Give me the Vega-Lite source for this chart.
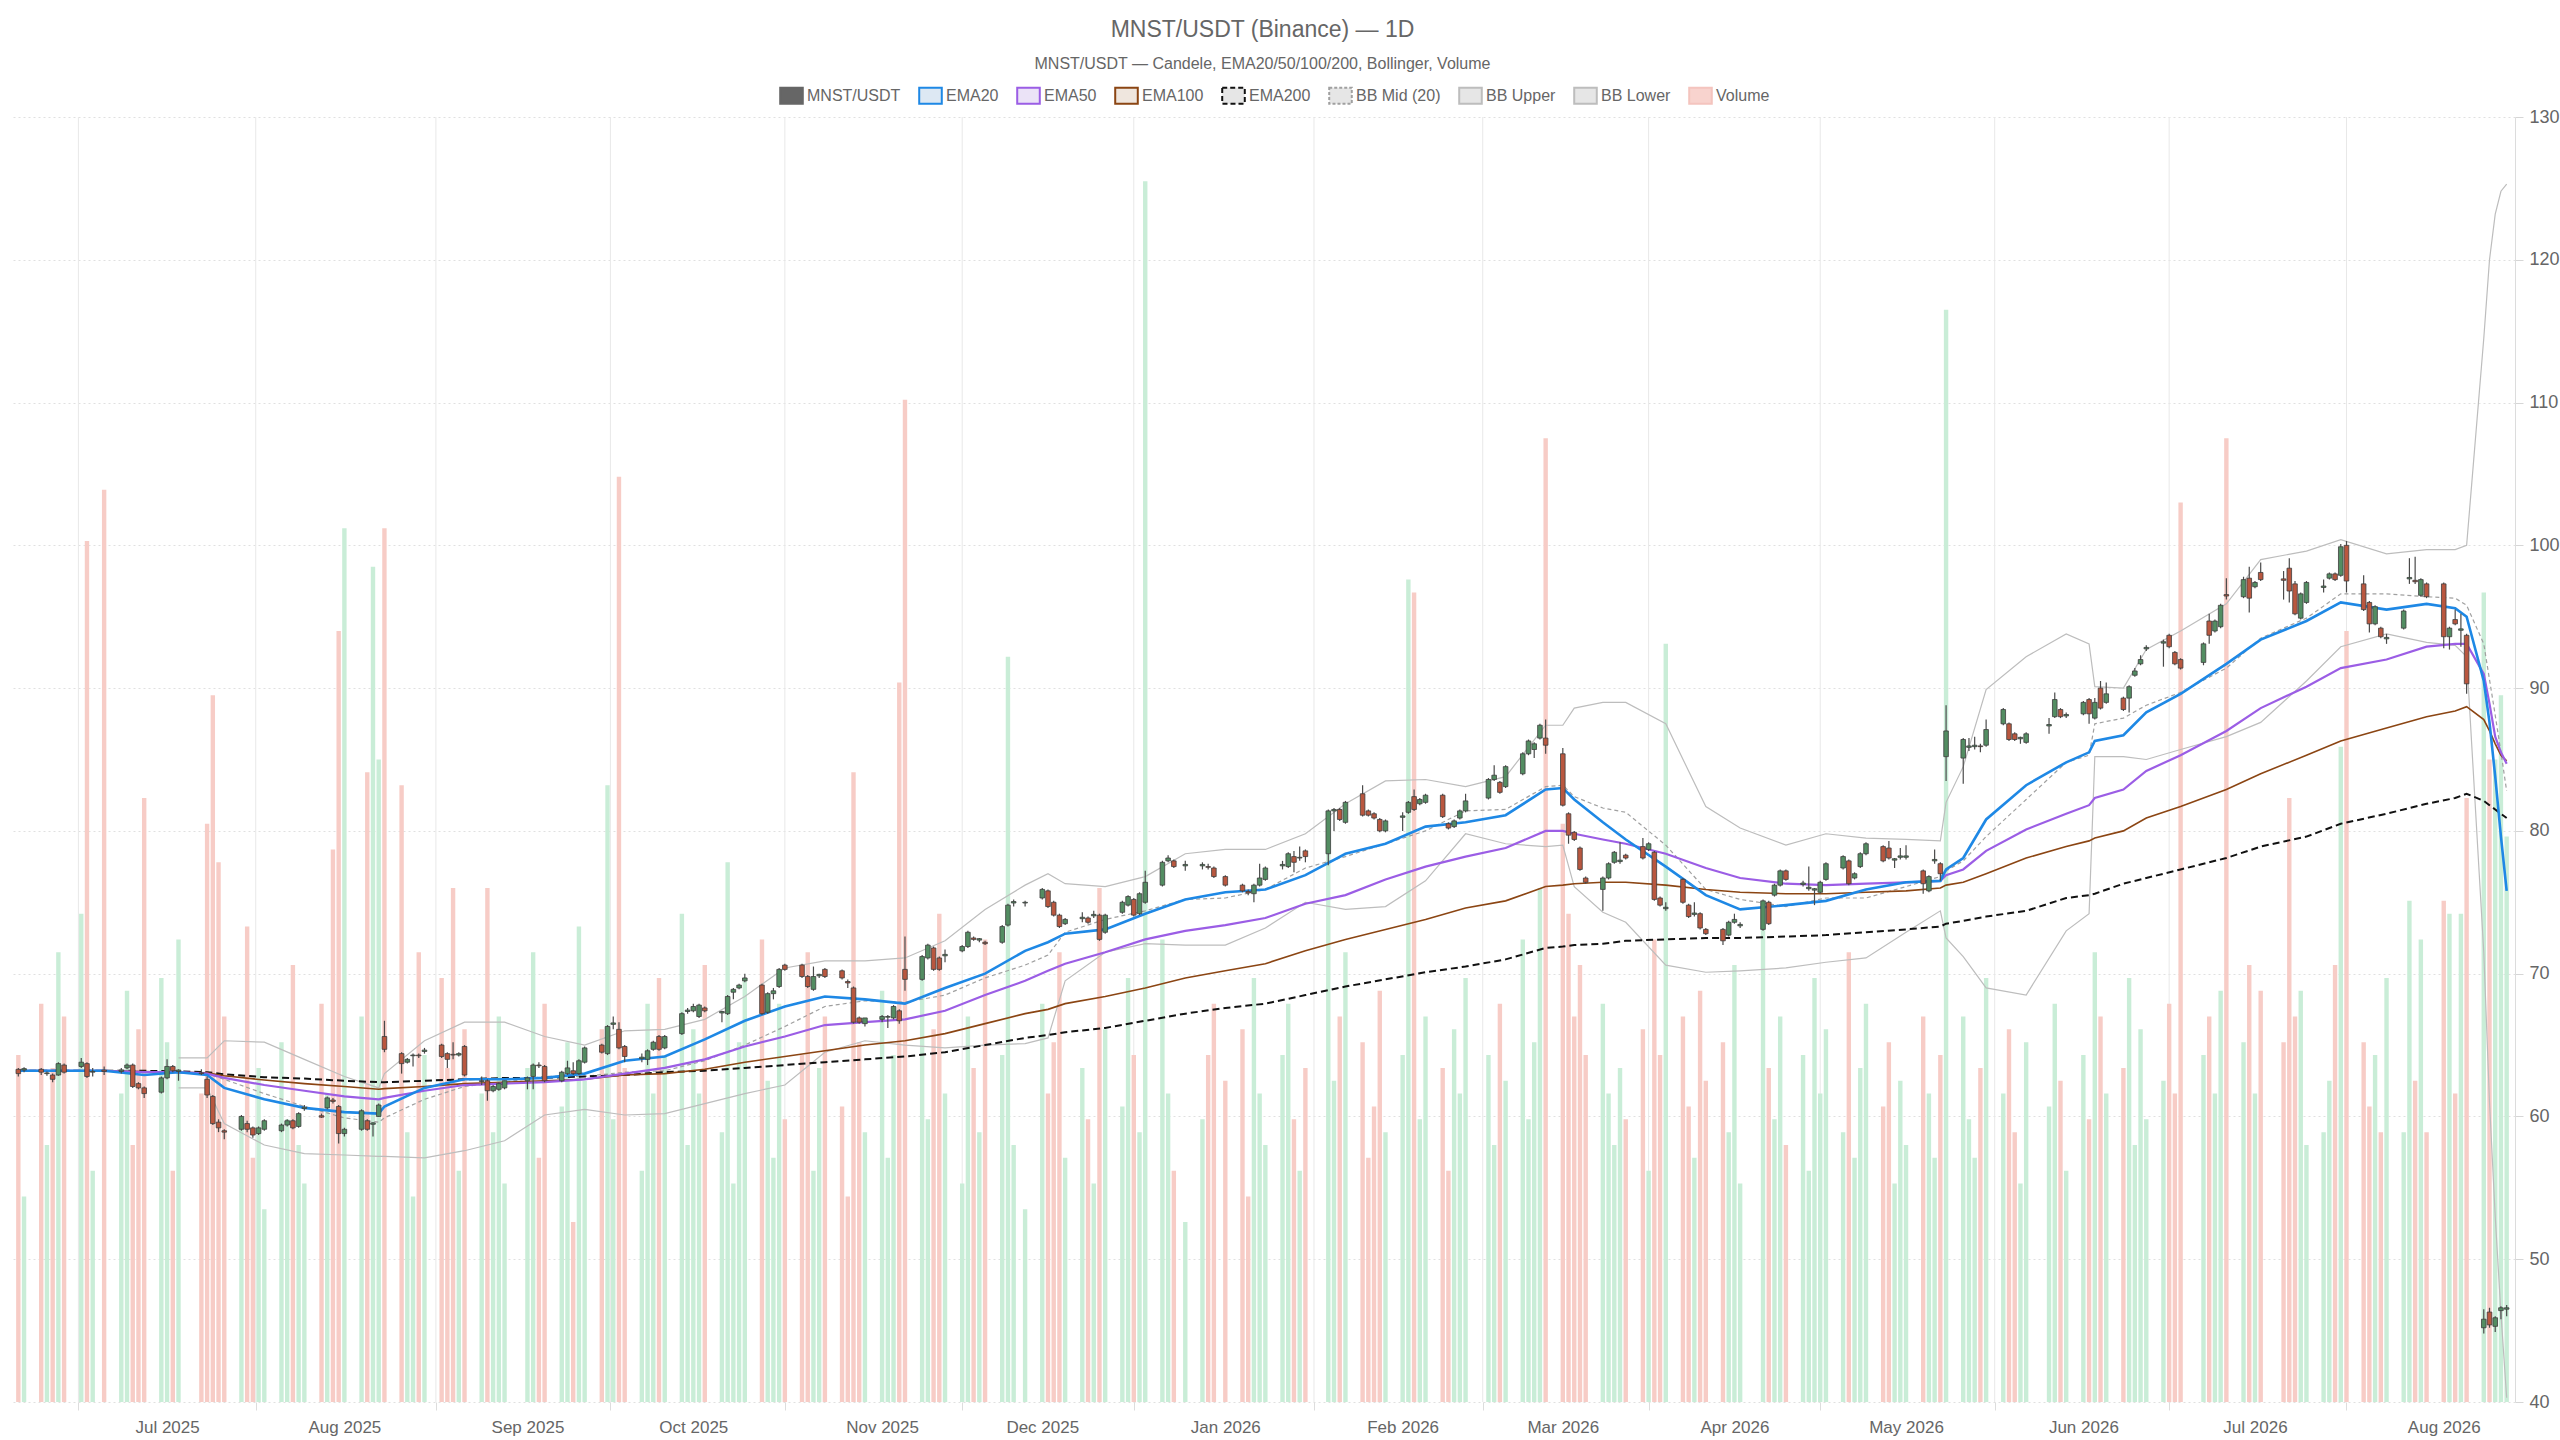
{
  "$schema": "https://vega.github.io/schema/vega-lite/v6.json",
  "width": 2505,
  "height": 1285,
  "autosize": {"type": "none"},
  "padding": {"left": 10, "top": 117, "right": 45, "bottom": 38},
  "background": "#ffffff",
  "config": {"font": "Liberation Sans", "view": {"stroke": null}},
  "title": {
    "text": "MNST/USDT (Binance) — 1D",
    "subtitle": "MNST/USDT — Candele, EMA20/50/100/200, Bollinger, Volume",
    "anchor": "middle",
    "fontSize": 23,
    "fontWeight": "normal",
    "color": "#666666",
    "subtitleFontSize": 16,
    "subtitleColor": "#666666",
    "subtitlePadding": 14,
    "offset": 14
  },
  "datasets": {
    "grid": [
      {"g":"2025-06-15T12:00:00Z"},{"g":"2025-07-16T12:00:00Z"},{"g":"2025-08-17T00:00:00Z"},
      {"g":"2025-09-16T12:00:00Z"},{"g":"2025-10-17T00:00:00Z"},{"g":"2025-11-17T00:00:00Z"},
      {"g":"2025-12-17T00:00:00Z"},{"g":"2026-01-17T12:00:00Z"},{"g":"2026-02-16T00:00:00Z"},
      {"g":"2026-03-17T00:00:00Z"},{"g":"2026-04-16T00:00:00Z"},{"g":"2026-05-16T12:00:00Z"},
      {"g":"2026-06-16T00:00:00Z"},{"g":"2026-07-17T00:00:00Z"}
    ],
    "candles": [
      {"d":"2025-06-05","o":63.3,"h":63.4,"l":62.8,"c":63.0,"v":27},
      {"d":"2025-06-06","o":63.25,"h":63.45,"l":63.1,"c":63.35,"v":16},
      {"d":"2025-06-09","o":63.3,"h":63.4,"l":62.9,"c":63.1,"v":31},
      {"d":"2025-06-10","o":63.0,"h":63.15,"l":62.85,"c":63.05,"v":20},
      {"d":"2025-06-11","o":62.9,"h":63.0,"l":62.4,"c":62.6,"v":26},
      {"d":"2025-06-12","o":62.9,"h":63.8,"l":62.85,"c":63.7,"v":35},
      {"d":"2025-06-13","o":63.6,"h":63.7,"l":63.0,"c":63.1,"v":30},
      {"d":"2025-06-16","o":63.5,"h":64.1,"l":63.4,"c":63.8,"v":38},
      {"d":"2025-06-17","o":63.7,"h":63.8,"l":62.7,"c":62.8,"v":67},
      {"d":"2025-06-18","o":63.1,"h":63.4,"l":62.8,"c":63.15,"v":18},
      {"d":"2025-06-20","o":63.25,"h":63.5,"l":62.9,"c":63.15,"v":71},
      {"d":"2025-06-23","o":63.15,"h":63.4,"l":63.0,"c":63.25,"v":24},
      {"d":"2025-06-24","o":63.4,"h":63.7,"l":63.3,"c":63.6,"v":32},
      {"d":"2025-06-25","o":63.6,"h":63.7,"l":62.0,"c":62.1,"v":20},
      {"d":"2025-06-26","o":62.3,"h":62.4,"l":61.9,"c":62.0,"v":29},
      {"d":"2025-06-27","o":62.0,"h":62.1,"l":61.3,"c":61.6,"v":47},
      {"d":"2025-06-30","o":61.7,"h":62.8,"l":61.6,"c":62.7,"v":33},
      {"d":"2025-07-01","o":62.7,"h":64.0,"l":62.6,"c":63.5,"v":28},
      {"d":"2025-07-02","o":63.5,"h":63.6,"l":63.1,"c":63.2,"v":18},
      {"d":"2025-07-03","o":63.15,"h":63.3,"l":62.5,"c":63.25,"v":36},
      {"d":"2025-07-07","o":63.05,"h":63.3,"l":62.9,"c":63.0,"v":24},
      {"d":"2025-07-08","o":62.6,"h":62.8,"l":61.3,"c":61.5,"v":45},
      {"d":"2025-07-09","o":61.4,"h":61.5,"l":59.4,"c":59.5,"v":55},
      {"d":"2025-07-10","o":59.6,"h":59.8,"l":58.9,"c":59.2,"v":42},
      {"d":"2025-07-11","o":59.0,"h":59.1,"l":58.4,"c":58.9,"v":30},
      {"d":"2025-07-14","o":59.1,"h":60.1,"l":59.0,"c":60.0,"v":22},
      {"d":"2025-07-15","o":59.5,"h":59.7,"l":58.9,"c":59.1,"v":37},
      {"d":"2025-07-16","o":59.2,"h":59.3,"l":58.5,"c":58.7,"v":19},
      {"d":"2025-07-17","o":58.8,"h":59.3,"l":58.7,"c":59.2,"v":26},
      {"d":"2025-07-18","o":59.1,"h":59.8,"l":59.0,"c":59.7,"v":15},
      {"d":"2025-07-21","o":59.0,"h":59.5,"l":58.9,"c":59.4,"v":28},
      {"d":"2025-07-22","o":59.4,"h":59.8,"l":59.3,"c":59.7,"v":22},
      {"d":"2025-07-23","o":59.7,"h":59.8,"l":59.1,"c":59.2,"v":34},
      {"d":"2025-07-24","o":59.3,"h":60.3,"l":59.2,"c":60.2,"v":20},
      {"d":"2025-07-25","o":60.55,"h":60.8,"l":60.4,"c":60.65,"v":17},
      {"d":"2025-07-28","o":60.05,"h":60.2,"l":59.9,"c":59.95,"v":31},
      {"d":"2025-07-29","o":60.6,"h":61.4,"l":60.5,"c":61.3,"v":24},
      {"d":"2025-07-30","o":61.15,"h":61.3,"l":60.9,"c":61.05,"v":43},
      {"d":"2025-07-31","o":60.7,"h":60.8,"l":58.1,"c":58.8,"v":60},
      {"d":"2025-08-01","o":58.8,"h":59.2,"l":58.6,"c":59.1,"v":68},
      {"d":"2025-08-04","o":59.1,"h":60.5,"l":59.0,"c":60.4,"v":30},
      {"d":"2025-08-05","o":59.7,"h":59.8,"l":59.0,"c":59.1,"v":49},
      {"d":"2025-08-06","o":59.45,"h":59.6,"l":58.6,"c":59.55,"v":65},
      {"d":"2025-08-07","o":60.0,"h":60.9,"l":60.0,"c":60.8,"v":50},
      {"d":"2025-08-08","o":65.6,"h":66.7,"l":64.5,"c":64.7,"v":68},
      {"d":"2025-08-11","o":64.4,"h":64.5,"l":63.0,"c":63.7,"v":48},
      {"d":"2025-08-12","o":63.8,"h":64.1,"l":63.7,"c":64.0,"v":21},
      {"d":"2025-08-13","o":64.25,"h":64.4,"l":63.5,"c":64.3,"v":16},
      {"d":"2025-08-14","o":64.3,"h":64.4,"l":64.1,"c":64.25,"v":35},
      {"d":"2025-08-15","o":64.55,"h":64.8,"l":64.4,"c":64.65,"v":27},
      {"d":"2025-08-18","o":65.0,"h":65.1,"l":64.1,"c":64.2,"v":33},
      {"d":"2025-08-19","o":64.4,"h":64.5,"l":63.4,"c":64.0,"v":26},
      {"d":"2025-08-20","o":64.35,"h":65.2,"l":64.0,"c":64.3,"v":40},
      {"d":"2025-08-21","o":64.3,"h":64.5,"l":64.2,"c":64.4,"v":18},
      {"d":"2025-08-22","o":64.9,"h":65.0,"l":62.8,"c":62.9,"v":29},
      {"d":"2025-08-25","o":62.45,"h":62.8,"l":62.2,"c":62.5,"v":24},
      {"d":"2025-08-26","o":62.5,"h":62.6,"l":61.1,"c":61.8,"v":40},
      {"d":"2025-08-27","o":61.8,"h":62.2,"l":61.7,"c":62.1,"v":21},
      {"d":"2025-08-28","o":61.9,"h":62.4,"l":61.8,"c":62.3,"v":30},
      {"d":"2025-08-29","o":62.0,"h":62.5,"l":61.9,"c":62.5,"v":17},
      {"d":"2025-09-02","o":62.5,"h":62.8,"l":61.9,"c":62.7,"v":26},
      {"d":"2025-09-03","o":62.8,"h":63.7,"l":61.9,"c":63.6,"v":35},
      {"d":"2025-09-04","o":63.6,"h":63.8,"l":63.4,"c":63.55,"v":19},
      {"d":"2025-09-05","o":63.5,"h":63.6,"l":62.4,"c":62.5,"v":31},
      {"d":"2025-09-08","o":62.5,"h":63.2,"l":62.4,"c":63.1,"v":23},
      {"d":"2025-09-09","o":63.0,"h":63.9,"l":62.9,"c":63.4,"v":28},
      {"d":"2025-09-10","o":63.2,"h":63.8,"l":62.9,"c":63.0,"v":14},
      {"d":"2025-09-11","o":63.0,"h":64.0,"l":62.9,"c":63.9,"v":37},
      {"d":"2025-09-12","o":63.8,"h":64.9,"l":63.7,"c":64.8,"v":25},
      {"d":"2025-09-15","o":65.0,"h":65.1,"l":64.4,"c":64.5,"v":29},
      {"d":"2025-09-16","o":64.4,"h":66.4,"l":64.3,"c":66.3,"v":48},
      {"d":"2025-09-17","o":66.45,"h":67.0,"l":66.1,"c":66.55,"v":22},
      {"d":"2025-09-18","o":66.1,"h":66.6,"l":64.7,"c":64.8,"v":72},
      {"d":"2025-09-19","o":64.9,"h":65.0,"l":63.8,"c":64.2,"v":26},
      {"d":"2025-09-22","o":64.05,"h":64.4,"l":63.8,"c":64.15,"v":18},
      {"d":"2025-09-23","o":64.0,"h":64.7,"l":63.6,"c":64.6,"v":31},
      {"d":"2025-09-24","o":64.7,"h":65.3,"l":64.6,"c":65.2,"v":24},
      {"d":"2025-09-25","o":65.6,"h":65.7,"l":64.6,"c":64.7,"v":33},
      {"d":"2025-09-26","o":64.8,"h":65.7,"l":64.7,"c":65.6,"v":27},
      {"d":"2025-09-29","o":65.8,"h":67.3,"l":65.7,"c":67.2,"v":38},
      {"d":"2025-09-30","o":67.35,"h":67.6,"l":67.2,"c":67.45,"v":20},
      {"d":"2025-10-01","o":67.4,"h":67.9,"l":67.3,"c":67.7,"v":29},
      {"d":"2025-10-02","o":67.0,"h":67.9,"l":66.9,"c":67.8,"v":24},
      {"d":"2025-10-03","o":67.6,"h":67.7,"l":67.3,"c":67.4,"v":34},
      {"d":"2025-10-06","o":67.25,"h":67.4,"l":66.6,"c":67.35,"v":21},
      {"d":"2025-10-07","o":67.2,"h":68.5,"l":67.1,"c":68.4,"v":42},
      {"d":"2025-10-08","o":68.7,"h":69.0,"l":68.2,"c":68.9,"v":17},
      {"d":"2025-10-09","o":69.0,"h":69.3,"l":68.9,"c":69.2,"v":28},
      {"d":"2025-10-10","o":69.5,"h":70.0,"l":69.4,"c":69.7,"v":33},
      {"d":"2025-10-13","o":69.2,"h":69.3,"l":67.1,"c":67.2,"v":36},
      {"d":"2025-10-14","o":67.3,"h":68.7,"l":67.2,"c":68.6,"v":25},
      {"d":"2025-10-15","o":68.6,"h":69.0,"l":68.2,"c":68.8,"v":19},
      {"d":"2025-10-16","o":69.1,"h":70.4,"l":69.0,"c":70.3,"v":31},
      {"d":"2025-10-17","o":70.6,"h":70.7,"l":70.2,"c":70.3,"v":22},
      {"d":"2025-10-20","o":70.6,"h":70.7,"l":69.7,"c":69.8,"v":27},
      {"d":"2025-10-21","o":69.8,"h":69.9,"l":69.0,"c":69.1,"v":35},
      {"d":"2025-10-22","o":68.9,"h":70.5,"l":68.8,"c":69.8,"v":18},
      {"d":"2025-10-23","o":69.85,"h":70.0,"l":69.7,"c":69.95,"v":26},
      {"d":"2025-10-24","o":70.3,"h":70.4,"l":69.7,"c":69.8,"v":30},
      {"d":"2025-10-27","o":70.2,"h":70.3,"l":69.6,"c":69.7,"v":23},
      {"d":"2025-10-28","o":69.45,"h":69.6,"l":69.0,"c":69.35,"v":16},
      {"d":"2025-10-29","o":69.0,"h":69.1,"l":66.5,"c":66.6,"v":49},
      {"d":"2025-10-30","o":66.9,"h":67.0,"l":66.5,"c":66.6,"v":28},
      {"d":"2025-10-31","o":66.5,"h":66.9,"l":66.3,"c":66.9,"v":21},
      {"d":"2025-11-03","o":66.8,"h":67.1,"l":66.6,"c":67.0,"v":32},
      {"d":"2025-11-04","o":66.95,"h":67.1,"l":66.2,"c":67.0,"v":19},
      {"d":"2025-11-05","o":66.9,"h":67.8,"l":66.8,"c":67.7,"v":27},
      {"d":"2025-11-06","o":67.4,"h":67.5,"l":66.5,"c":66.7,"v":56},
      {"d":"2025-11-07","o":70.3,"h":72.6,"l":68.8,"c":69.6,"v":78},
      {"d":"2025-11-10","o":69.6,"h":71.3,"l":69.5,"c":71.2,"v":34},
      {"d":"2025-11-11","o":71.1,"h":72.1,"l":71.0,"c":72.0,"v":22},
      {"d":"2025-11-12","o":71.8,"h":71.9,"l":70.2,"c":70.3,"v":29},
      {"d":"2025-11-13","o":71.1,"h":71.2,"l":70.2,"c":70.3,"v":38},
      {"d":"2025-11-14","o":71.25,"h":71.7,"l":70.8,"c":71.35,"v":24},
      {"d":"2025-11-17","o":71.6,"h":72.0,"l":71.5,"c":71.9,"v":17},
      {"d":"2025-11-18","o":71.9,"h":73.0,"l":71.8,"c":72.9,"v":30},
      {"d":"2025-11-19","o":72.5,"h":72.6,"l":72.3,"c":72.4,"v":26},
      {"d":"2025-11-20","o":72.35,"h":72.5,"l":72.2,"c":72.45,"v":21},
      {"d":"2025-11-21","o":72.2,"h":72.3,"l":72.0,"c":72.1,"v":36},
      {"d":"2025-11-24","o":72.2,"h":73.4,"l":72.1,"c":73.3,"v":27},
      {"d":"2025-11-25","o":73.4,"h":74.9,"l":73.3,"c":74.8,"v":58},
      {"d":"2025-11-26","o":74.95,"h":75.2,"l":74.7,"c":75.05,"v":20},
      {"d":"2025-11-28","o":74.95,"h":75.1,"l":74.7,"c":75.0,"v":15},
      {"d":"2025-12-01","o":75.3,"h":76.0,"l":75.2,"c":75.9,"v":31},
      {"d":"2025-12-02","o":75.8,"h":75.9,"l":74.6,"c":74.7,"v":24},
      {"d":"2025-12-03","o":75.0,"h":75.1,"l":74.0,"c":74.1,"v":28},
      {"d":"2025-12-04","o":74.1,"h":74.2,"l":73.2,"c":73.3,"v":35},
      {"d":"2025-12-05","o":73.5,"h":73.9,"l":73.4,"c":73.8,"v":19},
      {"d":"2025-12-08","o":73.85,"h":74.3,"l":73.6,"c":73.95,"v":26},
      {"d":"2025-12-09","o":73.9,"h":74.0,"l":73.5,"c":73.6,"v":22},
      {"d":"2025-12-10","o":74.05,"h":74.4,"l":73.9,"c":74.15,"v":17},
      {"d":"2025-12-11","o":74.1,"h":74.2,"l":72.3,"c":72.4,"v":40},
      {"d":"2025-12-12","o":72.9,"h":74.2,"l":72.8,"c":74.1,"v":29},
      {"d":"2025-12-15","o":74.3,"h":75.1,"l":74.2,"c":75.0,"v":23},
      {"d":"2025-12-16","o":74.8,"h":75.5,"l":74.7,"c":75.4,"v":33},
      {"d":"2025-12-17","o":75.2,"h":75.3,"l":74.0,"c":74.1,"v":27},
      {"d":"2025-12-18","o":74.2,"h":75.7,"l":74.1,"c":75.6,"v":21},
      {"d":"2025-12-19","o":75.0,"h":77.2,"l":74.9,"c":76.4,"v":95},
      {"d":"2025-12-22","o":76.2,"h":77.9,"l":76.1,"c":77.8,"v":36},
      {"d":"2025-12-23","o":77.9,"h":78.3,"l":77.8,"c":78.1,"v":24},
      {"d":"2025-12-24","o":77.9,"h":78.0,"l":77.4,"c":77.5,"v":18},
      {"d":"2025-12-26","o":77.55,"h":77.9,"l":77.2,"c":77.65,"v":14},
      {"d":"2025-12-29","o":77.55,"h":77.8,"l":77.3,"c":77.65,"v":22},
      {"d":"2025-12-30","o":77.5,"h":77.7,"l":77.3,"c":77.45,"v":27},
      {"d":"2025-12-31","o":77.4,"h":77.5,"l":76.7,"c":76.8,"v":31},
      {"d":"2026-01-02","o":76.8,"h":76.9,"l":76.1,"c":76.2,"v":25},
      {"d":"2026-01-05","o":76.2,"h":76.3,"l":75.7,"c":75.8,"v":29},
      {"d":"2026-01-06","o":75.75,"h":75.9,"l":75.5,"c":75.65,"v":16},
      {"d":"2026-01-07","o":75.6,"h":76.3,"l":75.0,"c":76.2,"v":33},
      {"d":"2026-01-08","o":76.2,"h":77.7,"l":76.1,"c":76.7,"v":24},
      {"d":"2026-01-09","o":76.6,"h":77.5,"l":76.5,"c":77.4,"v":20},
      {"d":"2026-01-12","o":77.55,"h":77.9,"l":77.3,"c":77.65,"v":27},
      {"d":"2026-01-13","o":77.5,"h":78.5,"l":77.4,"c":78.4,"v":31},
      {"d":"2026-01-14","o":78.2,"h":78.6,"l":77.1,"c":77.8,"v":22},
      {"d":"2026-01-15","o":78.1,"h":78.9,"l":77.9,"c":78.15,"v":18},
      {"d":"2026-01-16","o":78.6,"h":78.7,"l":77.8,"c":78.2,"v":26},
      {"d":"2026-01-20","o":78.4,"h":81.5,"l":77.6,"c":81.4,"v":44},
      {"d":"2026-01-21","o":81.4,"h":81.6,"l":80.0,"c":81.5,"v":25},
      {"d":"2026-01-22","o":81.5,"h":81.6,"l":80.7,"c":80.8,"v":30},
      {"d":"2026-01-23","o":80.6,"h":82.1,"l":80.5,"c":82.0,"v":35},
      {"d":"2026-01-26","o":82.6,"h":83.2,"l":81.0,"c":81.1,"v":28},
      {"d":"2026-01-27","o":81.4,"h":81.5,"l":81.0,"c":81.1,"v":19},
      {"d":"2026-01-28","o":81.2,"h":81.3,"l":80.8,"c":80.9,"v":23},
      {"d":"2026-01-29","o":80.8,"h":80.9,"l":79.9,"c":80.0,"v":32},
      {"d":"2026-01-30","o":80.0,"h":80.8,"l":79.9,"c":80.7,"v":21},
      {"d":"2026-02-02","o":80.95,"h":81.3,"l":80.0,"c":81.05,"v":27},
      {"d":"2026-02-03","o":81.3,"h":82.1,"l":81.2,"c":82.0,"v":64},
      {"d":"2026-02-04","o":82.4,"h":82.9,"l":81.4,"c":81.5,"v":63},
      {"d":"2026-02-05","o":81.9,"h":82.3,"l":81.8,"c":82.2,"v":22},
      {"d":"2026-02-06","o":82.0,"h":82.6,"l":81.9,"c":82.5,"v":30},
      {"d":"2026-02-09","o":82.5,"h":82.6,"l":80.9,"c":81.0,"v":26},
      {"d":"2026-02-10","o":80.5,"h":80.6,"l":80.1,"c":80.2,"v":18},
      {"d":"2026-02-11","o":80.3,"h":80.8,"l":80.2,"c":80.7,"v":29},
      {"d":"2026-02-12","o":80.9,"h":81.5,"l":80.8,"c":81.4,"v":24},
      {"d":"2026-02-13","o":81.4,"h":82.6,"l":81.3,"c":82.1,"v":33},
      {"d":"2026-02-17","o":82.3,"h":83.7,"l":82.2,"c":83.6,"v":27},
      {"d":"2026-02-18","o":83.6,"h":84.6,"l":83.5,"c":83.9,"v":20},
      {"d":"2026-02-19","o":83.4,"h":83.5,"l":82.6,"c":82.7,"v":31},
      {"d":"2026-02-20","o":83.1,"h":84.6,"l":83.0,"c":84.5,"v":25},
      {"d":"2026-02-23","o":84.0,"h":85.5,"l":83.9,"c":85.4,"v":36},
      {"d":"2026-02-24","o":85.4,"h":86.4,"l":85.3,"c":86.3,"v":22},
      {"d":"2026-02-25","o":85.7,"h":86.2,"l":85.1,"c":86.1,"v":28},
      {"d":"2026-02-26","o":86.5,"h":87.5,"l":86.4,"c":87.4,"v":40},
      {"d":"2026-02-27","o":86.5,"h":87.8,"l":85.4,"c":86.0,"v":75},
      {"d":"2026-03-02","o":85.4,"h":85.8,"l":81.7,"c":81.8,"v":45},
      {"d":"2026-03-03","o":81.2,"h":81.3,"l":79.1,"c":79.7,"v":38},
      {"d":"2026-03-04","o":79.9,"h":80.0,"l":79.3,"c":79.4,"v":30},
      {"d":"2026-03-05","o":78.8,"h":78.9,"l":77.2,"c":77.3,"v":34},
      {"d":"2026-03-06","o":76.7,"h":76.8,"l":76.3,"c":76.4,"v":27},
      {"d":"2026-03-09","o":75.9,"h":76.8,"l":74.4,"c":76.7,"v":31},
      {"d":"2026-03-10","o":76.7,"h":77.8,"l":76.6,"c":77.7,"v":24},
      {"d":"2026-03-11","o":77.8,"h":78.6,"l":77.7,"c":78.5,"v":20},
      {"d":"2026-03-12","o":77.85,"h":79.2,"l":77.7,"c":77.95,"v":26},
      {"d":"2026-03-13","o":78.3,"h":78.4,"l":78.0,"c":78.1,"v":22},
      {"d":"2026-03-16","o":78.9,"h":79.5,"l":78.0,"c":78.1,"v":29},
      {"d":"2026-03-17","o":78.7,"h":79.2,"l":78.6,"c":79.1,"v":18},
      {"d":"2026-03-18","o":78.5,"h":78.6,"l":75.1,"c":75.2,"v":36},
      {"d":"2026-03-19","o":75.3,"h":75.4,"l":74.7,"c":74.8,"v":27},
      {"d":"2026-03-20","o":74.55,"h":75.0,"l":74.4,"c":74.65,"v":59},
      {"d":"2026-03-23","o":76.6,"h":76.7,"l":74.9,"c":75.0,"v":30},
      {"d":"2026-03-24","o":74.8,"h":74.9,"l":73.9,"c":74.0,"v":23},
      {"d":"2026-03-25","o":74.15,"h":75.0,"l":74.0,"c":74.25,"v":19},
      {"d":"2026-03-26","o":74.2,"h":74.3,"l":73.1,"c":73.2,"v":32},
      {"d":"2026-03-27","o":73.1,"h":73.2,"l":72.7,"c":72.8,"v":25},
      {"d":"2026-03-30","o":73.1,"h":73.2,"l":72.0,"c":72.3,"v":28},
      {"d":"2026-03-31","o":72.7,"h":73.7,"l":72.6,"c":73.6,"v":21},
      {"d":"2026-04-01","o":73.6,"h":74.2,"l":73.5,"c":73.8,"v":34},
      {"d":"2026-04-02","o":73.35,"h":73.6,"l":73.2,"c":73.45,"v":17},
      {"d":"2026-04-06","o":73.1,"h":75.2,"l":73.0,"c":75.1,"v":38},
      {"d":"2026-04-07","o":75.0,"h":75.1,"l":73.4,"c":73.5,"v":26},
      {"d":"2026-04-08","o":75.5,"h":76.3,"l":75.4,"c":76.2,"v":22},
      {"d":"2026-04-09","o":76.2,"h":77.3,"l":76.1,"c":77.2,"v":30},
      {"d":"2026-04-10","o":77.2,"h":77.3,"l":76.5,"c":76.6,"v":20},
      {"d":"2026-04-13","o":76.25,"h":76.5,"l":76.1,"c":76.35,"v":27},
      {"d":"2026-04-14","o":75.95,"h":77.5,"l":75.8,"c":76.05,"v":18},
      {"d":"2026-04-15","o":75.85,"h":76.0,"l":74.8,"c":75.95,"v":33},
      {"d":"2026-04-16","o":75.7,"h":76.5,"l":75.6,"c":76.4,"v":24},
      {"d":"2026-04-17","o":76.6,"h":77.8,"l":76.5,"c":77.7,"v":29},
      {"d":"2026-04-20","o":77.4,"h":78.3,"l":77.3,"c":78.2,"v":21},
      {"d":"2026-04-21","o":77.9,"h":78.0,"l":76.2,"c":76.3,"v":35},
      {"d":"2026-04-22","o":76.7,"h":77.1,"l":76.6,"c":77.0,"v":19},
      {"d":"2026-04-23","o":77.5,"h":78.5,"l":77.4,"c":78.4,"v":26},
      {"d":"2026-04-24","o":78.4,"h":79.2,"l":78.3,"c":79.1,"v":31},
      {"d":"2026-04-27","o":78.9,"h":79.0,"l":77.8,"c":77.9,"v":23},
      {"d":"2026-04-28","o":78.8,"h":79.3,"l":78.0,"c":78.1,"v":28},
      {"d":"2026-04-29","o":77.95,"h":78.1,"l":77.4,"c":78.05,"v":17},
      {"d":"2026-04-30","o":78.15,"h":78.8,"l":78.0,"c":78.25,"v":25},
      {"d":"2026-05-01","o":78.15,"h":79.0,"l":78.0,"c":78.25,"v":20},
      {"d":"2026-05-04","o":77.2,"h":77.3,"l":75.6,"c":76.3,"v":30},
      {"d":"2026-05-05","o":75.8,"h":76.9,"l":75.7,"c":76.8,"v":24},
      {"d":"2026-05-06","o":77.9,"h":78.7,"l":77.7,"c":78.0,"v":19},
      {"d":"2026-05-07","o":77.7,"h":77.8,"l":76.5,"c":77.0,"v":27},
      {"d":"2026-05-08","o":85.2,"h":88.8,"l":83.5,"c":87.0,"v":85},
      {"d":"2026-05-11","o":85.1,"h":86.5,"l":83.3,"c":86.4,"v":30},
      {"d":"2026-05-12","o":85.85,"h":86.5,"l":85.6,"c":85.95,"v":22},
      {"d":"2026-05-13","o":85.9,"h":86.6,"l":85.7,"c":86.0,"v":19},
      {"d":"2026-05-14","o":85.95,"h":86.1,"l":85.5,"c":85.9,"v":26},
      {"d":"2026-05-15","o":86.0,"h":87.8,"l":85.9,"c":87.1,"v":33},
      {"d":"2026-05-18","o":87.5,"h":88.6,"l":87.4,"c":88.5,"v":24},
      {"d":"2026-05-19","o":87.5,"h":87.6,"l":86.3,"c":86.4,"v":29},
      {"d":"2026-05-20","o":86.8,"h":86.9,"l":86.3,"c":86.4,"v":21},
      {"d":"2026-05-21","o":86.45,"h":86.6,"l":86.1,"c":86.55,"v":17},
      {"d":"2026-05-22","o":86.2,"h":86.9,"l":86.1,"c":86.8,"v":28},
      {"d":"2026-05-26","o":87.35,"h":87.9,"l":86.8,"c":87.45,"v":23},
      {"d":"2026-05-27","o":88.0,"h":89.7,"l":87.9,"c":89.2,"v":31},
      {"d":"2026-05-28","o":88.5,"h":88.6,"l":87.9,"c":88.0,"v":25},
      {"d":"2026-05-29","o":88.05,"h":88.3,"l":87.9,"c":88.15,"v":18},
      {"d":"2026-06-01","o":88.2,"h":89.1,"l":88.1,"c":89.0,"v":27},
      {"d":"2026-06-02","o":89.2,"h":89.3,"l":87.5,"c":88.2,"v":22},
      {"d":"2026-06-03","o":87.9,"h":89.3,"l":87.8,"c":89.0,"v":35},
      {"d":"2026-06-04","o":90.0,"h":90.5,"l":88.5,"c":88.6,"v":30},
      {"d":"2026-06-05","o":89.0,"h":90.4,"l":88.9,"c":89.6,"v":24},
      {"d":"2026-06-08","o":89.3,"h":89.4,"l":88.4,"c":88.5,"v":26},
      {"d":"2026-06-09","o":89.3,"h":90.2,"l":88.3,"c":90.1,"v":33},
      {"d":"2026-06-10","o":90.9,"h":91.4,"l":90.8,"c":91.2,"v":20},
      {"d":"2026-06-11","o":91.7,"h":92.3,"l":91.6,"c":92.0,"v":29},
      {"d":"2026-06-12","o":92.75,"h":93.0,"l":92.6,"c":92.85,"v":22},
      {"d":"2026-06-15","o":93.15,"h":93.4,"l":91.5,"c":93.25,"v":25},
      {"d":"2026-06-16","o":93.7,"h":93.8,"l":92.8,"c":92.9,"v":31},
      {"d":"2026-06-17","o":92.5,"h":92.6,"l":91.6,"c":91.7,"v":24},
      {"d":"2026-06-18","o":92.0,"h":92.1,"l":91.3,"c":91.4,"v":70},
      {"d":"2026-06-22","o":91.8,"h":93.2,"l":91.6,"c":93.1,"v":27},
      {"d":"2026-06-23","o":94.7,"h":95.2,"l":93.1,"c":93.7,"v":30},
      {"d":"2026-06-24","o":94.0,"h":94.8,"l":93.9,"c":94.7,"v":24},
      {"d":"2026-06-25","o":94.3,"h":95.9,"l":94.2,"c":95.8,"v":32},
      {"d":"2026-06-26","o":96.55,"h":97.7,"l":96.2,"c":96.45,"v":75},
      {"d":"2026-06-29","o":96.4,"h":97.8,"l":96.3,"c":97.6,"v":28},
      {"d":"2026-06-30","o":97.7,"h":98.5,"l":95.3,"c":96.3,"v":34},
      {"d":"2026-07-01","o":97.1,"h":97.5,"l":97.0,"c":97.4,"v":24},
      {"d":"2026-07-02","o":98.1,"h":98.8,"l":97.5,"c":97.6,"v":32},
      {"d":"2026-07-06","o":97.65,"h":98.2,"l":96.2,"c":97.55,"v":28},
      {"d":"2026-07-07","o":98.4,"h":99.1,"l":96.0,"c":96.8,"v":47},
      {"d":"2026-07-08","o":97.3,"h":97.5,"l":95.1,"c":95.2,"v":30},
      {"d":"2026-07-09","o":94.9,"h":96.7,"l":94.8,"c":96.6,"v":32},
      {"d":"2026-07-10","o":96.0,"h":97.5,"l":95.9,"c":97.4,"v":20},
      {"d":"2026-07-13","o":97.05,"h":97.6,"l":96.7,"c":97.15,"v":21},
      {"d":"2026-07-14","o":97.7,"h":98.1,"l":97.6,"c":98.0,"v":25},
      {"d":"2026-07-15","o":98.0,"h":98.1,"l":97.5,"c":97.6,"v":34},
      {"d":"2026-07-16","o":97.9,"h":100.1,"l":97.8,"c":99.9,"v":51},
      {"d":"2026-07-17","o":100.0,"h":100.3,"l":96.7,"c":97.5,"v":60},
      {"d":"2026-07-20","o":97.3,"h":97.9,"l":95.4,"c":95.5,"v":28},
      {"d":"2026-07-21","o":96.0,"h":96.1,"l":93.9,"c":94.5,"v":23},
      {"d":"2026-07-22","o":94.5,"h":95.8,"l":94.4,"c":95.7,"v":27},
      {"d":"2026-07-23","o":94.2,"h":94.3,"l":93.5,"c":93.6,"v":21},
      {"d":"2026-07-24","o":93.45,"h":93.8,"l":93.1,"c":93.55,"v":33},
      {"d":"2026-07-27","o":94.2,"h":95.5,"l":94.1,"c":95.4,"v":21},
      {"d":"2026-07-28","o":97.65,"h":99.1,"l":97.3,"c":97.75,"v":39},
      {"d":"2026-07-29","o":97.55,"h":99.2,"l":97.3,"c":97.45,"v":25},
      {"d":"2026-07-30","o":96.5,"h":97.7,"l":96.4,"c":97.6,"v":36},
      {"d":"2026-07-31","o":97.3,"h":97.4,"l":96.3,"c":96.4,"v":21},
      {"d":"2026-08-03","o":97.3,"h":97.4,"l":92.8,"c":93.6,"v":39},
      {"d":"2026-08-04","o":93.6,"h":94.3,"l":92.7,"c":94.2,"v":38},
      {"d":"2026-08-05","o":94.8,"h":95.5,"l":94.4,"c":94.5,"v":24},
      {"d":"2026-08-06","o":94.05,"h":95.2,"l":92.9,"c":94.15,"v":38},
      {"d":"2026-08-07","o":93.7,"h":93.8,"l":89.6,"c":90.3,"v":47},
      {"d":"2026-08-10","o":45.2,"h":46.5,"l":44.8,"c":45.8,"v":63},
      {"d":"2026-08-11","o":46.3,"h":46.6,"l":45.2,"c":45.4,"v":50},
      {"d":"2026-08-12","o":45.3,"h":46.0,"l":44.9,"c":45.9,"v":50},
      {"d":"2026-08-13","o":46.4,"h":46.7,"l":45.8,"c":46.6,"v":55},
      {"d":"2026-08-14","o":46.5,"h":46.8,"l":46.0,"c":46.6,"v":44}
    ],
    "ind": [
      {"d":"2025-06-05","e20":63.2,"e50":63.2,"e100":63.2,"e200":63.2,"bu":null,"bm":null,"bl":null},
      {"d":"2025-06-12","e20":63.2,"e50":63.2,"e100":63.2,"e200":63.2,"bu":null,"bm":null,"bl":null},
      {"d":"2025-06-20","e20":63.2,"e50":63.2,"e100":63.2,"e200":63.2,"bu":null,"bm":null,"bl":null},
      {"d":"2025-06-27","e20":62.9,"e50":63.1,"e100":63.15,"e200":63.2,"bu":null,"bm":null,"bl":null},
      {"d":"2025-07-03","e20":63.1,"e50":63.1,"e100":63.1,"e200":63.15,"bu":64.1,"bm":63.05,"bl":62.0},
      {"d":"2025-07-08","e20":62.9,"e50":63.0,"e100":63.05,"e200":63.1,"bu":64.1,"bm":63.0,"bl":62.0},
      {"d":"2025-07-11","e20":62.0,"e50":62.7,"e100":62.85,"e200":62.95,"bu":65.3,"bm":62.6,"bl":59.5},
      {"d":"2025-07-18","e20":61.2,"e50":62.2,"e100":62.55,"e200":62.75,"bu":65.2,"bm":61.6,"bl":58.0},
      {"d":"2025-07-25","e20":60.6,"e50":61.8,"e100":62.3,"e200":62.65,"bu":64.0,"bm":60.7,"bl":57.4},
      {"d":"2025-08-01","e20":60.3,"e50":61.4,"e100":62.1,"e200":62.5,"bu":62.8,"bm":59.9,"bl":57.3},
      {"d":"2025-08-07","e20":60.2,"e50":61.2,"e100":61.9,"e200":62.4,"bu":62.0,"bm":59.6,"bl":57.2},
      {"d":"2025-08-08","e20":60.7,"e50":61.3,"e100":61.95,"e200":62.4,"bu":63.0,"bm":59.9,"bl":57.2},
      {"d":"2025-08-15","e20":62.0,"e50":61.8,"e100":62.1,"e200":62.5,"bu":65.3,"bm":61.2,"bl":57.1},
      {"d":"2025-08-22","e20":62.6,"e50":62.2,"e100":62.3,"e200":62.6,"bu":66.6,"bm":62.1,"bl":57.6},
      {"d":"2025-08-29","e20":62.6,"e50":62.3,"e100":62.4,"e200":62.7,"bu":66.6,"bm":62.4,"bl":58.3},
      {"d":"2025-09-05","e20":62.7,"e50":62.4,"e100":62.5,"e200":62.7,"bu":65.6,"bm":62.8,"bl":60.1},
      {"d":"2025-09-12","e20":63.0,"e50":62.6,"e100":62.6,"e200":62.8,"bu":65.0,"bm":62.8,"bl":60.5},
      {"d":"2025-09-19","e20":63.9,"e50":63.0,"e100":62.9,"e200":62.9,"bu":66.0,"bm":63.1,"bl":60.1},
      {"d":"2025-09-26","e20":64.2,"e50":63.4,"e100":63.0,"e200":63.1,"bu":66.1,"bm":63.2,"bl":60.2},
      {"d":"2025-10-03","e20":65.4,"e50":64.0,"e100":63.3,"e200":63.2,"bu":66.8,"bm":63.9,"bl":60.9},
      {"d":"2025-10-10","e20":66.7,"e50":64.9,"e100":63.8,"e200":63.4,"bu":68.4,"bm":65.0,"bl":61.6},
      {"d":"2025-10-17","e20":67.7,"e50":65.6,"e100":64.2,"e200":63.6,"bu":70.4,"bm":66.3,"bl":62.2},
      {"d":"2025-10-24","e20":68.4,"e50":66.4,"e100":64.6,"e200":63.8,"bu":70.9,"bm":67.7,"bl":64.5},
      {"d":"2025-10-31","e20":68.2,"e50":66.6,"e100":65.0,"e200":64.0,"bu":70.9,"bm":68.1,"bl":65.3},
      {"d":"2025-11-07","e20":67.9,"e50":66.8,"e100":65.3,"e200":64.2,"bu":71.1,"bm":68.0,"bl":65.0},
      {"d":"2025-11-14","e20":69.0,"e50":67.4,"e100":65.8,"e200":64.5,"bu":72.3,"bm":68.5,"bl":64.8},
      {"d":"2025-11-21","e20":70.0,"e50":68.5,"e100":66.5,"e200":65.0,"bu":74.5,"bm":69.7,"bl":65.0},
      {"d":"2025-11-28","e20":71.6,"e50":69.5,"e100":67.2,"e200":65.5,"bu":76.2,"bm":70.6,"bl":65.1},
      {"d":"2025-12-02","e20":72.2,"e50":70.2,"e100":67.5,"e200":65.7,"bu":77.0,"bm":71.3,"bl":65.5},
      {"d":"2025-12-05","e20":72.8,"e50":70.7,"e100":67.9,"e200":65.9,"bu":76.3,"bm":72.9,"bl":69.5},
      {"d":"2025-12-12","e20":73.1,"e50":71.5,"e100":68.4,"e200":66.2,"bu":76.1,"bm":73.8,"bl":71.5},
      {"d":"2025-12-19","e20":74.2,"e50":72.4,"e100":69.0,"e200":66.7,"bu":76.8,"bm":74.4,"bl":72.1},
      {"d":"2025-12-26","e20":75.2,"e50":73.0,"e100":69.7,"e200":67.2,"bu":78.4,"bm":75.2,"bl":72.0},
      {"d":"2026-01-02","e20":75.7,"e50":73.4,"e100":70.2,"e200":67.6,"bu":78.7,"bm":75.3,"bl":72.0},
      {"d":"2026-01-09","e20":75.9,"e50":73.9,"e100":70.7,"e200":67.9,"bu":78.7,"bm":75.9,"bl":73.2},
      {"d":"2026-01-16","e20":76.9,"e50":74.9,"e100":71.6,"e200":68.5,"bu":79.8,"bm":77.4,"bl":75.0},
      {"d":"2026-01-23","e20":78.4,"e50":75.5,"e100":72.4,"e200":69.1,"bu":81.9,"bm":78.2,"bl":74.5},
      {"d":"2026-01-30","e20":79.1,"e50":76.6,"e100":73.1,"e200":69.6,"bu":83.5,"bm":79.1,"bl":74.7},
      {"d":"2026-02-06","e20":80.3,"e50":77.5,"e100":73.8,"e200":70.1,"bu":83.6,"bm":80.0,"bl":76.5},
      {"d":"2026-02-13","e20":80.6,"e50":78.2,"e100":74.6,"e200":70.5,"bu":83.1,"bm":81.4,"bl":79.8},
      {"d":"2026-02-20","e20":81.1,"e50":78.8,"e100":75.1,"e200":71.0,"bu":83.8,"bm":81.5,"bl":79.1},
      {"d":"2026-02-27","e20":82.9,"e50":80.0,"e100":76.1,"e200":71.8,"bu":87.4,"bm":83.1,"bl":78.9},
      {"d":"2026-03-02","e20":83.0,"e50":80.0,"e100":76.2,"e200":71.9,"bu":87.4,"bm":83.2,"bl":79.0},
      {"d":"2026-03-04","e20":82.2,"e50":79.8,"e100":76.3,"e200":72.0,"bu":88.6,"bm":82.4,"bl":76.1},
      {"d":"2026-03-09","e20":80.6,"e50":79.4,"e100":76.4,"e200":72.1,"bu":89.0,"bm":81.6,"bl":74.3},
      {"d":"2026-03-13","e20":79.4,"e50":79.1,"e100":76.4,"e200":72.3,"bu":89.0,"bm":81.3,"bl":73.6},
      {"d":"2026-03-20","e20":77.5,"e50":78.4,"e100":76.2,"e200":72.4,"bu":87.5,"bm":79.0,"bl":70.6},
      {"d":"2026-03-27","e20":75.5,"e50":77.4,"e100":75.9,"e200":72.5,"bu":81.7,"bm":75.9,"bl":70.1},
      {"d":"2026-04-02","e20":74.5,"e50":76.7,"e100":75.7,"e200":72.5,"bu":80.2,"bm":75.2,"bl":70.2},
      {"d":"2026-04-10","e20":74.8,"e50":76.3,"e100":75.6,"e200":72.6,"bu":79.0,"bm":74.7,"bl":70.4},
      {"d":"2026-04-17","e20":75.1,"e50":76.2,"e100":75.6,"e200":72.7,"bu":79.8,"bm":75.3,"bl":70.8},
      {"d":"2026-04-24","e20":75.9,"e50":76.3,"e100":75.7,"e200":72.9,"bu":79.5,"bm":75.3,"bl":71.1},
      {"d":"2026-05-01","e20":76.4,"e50":76.4,"e100":75.8,"e200":73.1,"bu":79.4,"bm":76.1,"bl":72.9},
      {"d":"2026-05-07","e20":76.5,"e50":76.5,"e100":76.0,"e200":73.3,"bu":79.3,"bm":76.8,"bl":74.4},
      {"d":"2026-05-08","e20":77.3,"e50":76.9,"e100":76.2,"e200":73.5,"bu":82.0,"bm":77.2,"bl":72.5},
      {"d":"2026-05-11","e20":78.1,"e50":77.3,"e100":76.4,"e200":73.7,"bu":84.5,"bm":77.9,"bl":71.2},
      {"d":"2026-05-15","e20":80.8,"e50":78.6,"e100":77.0,"e200":74.0,"bu":89.9,"bm":79.6,"bl":69.0},
      {"d":"2026-05-22","e20":83.2,"e50":80.1,"e100":78.1,"e200":74.4,"bu":92.2,"bm":82.2,"bl":68.5},
      {"d":"2026-05-29","e20":84.8,"e50":81.2,"e100":78.9,"e200":75.3,"bu":93.8,"bm":84.8,"bl":73.0},
      {"d":"2026-06-02","e20":85.5,"e50":81.8,"e100":79.3,"e200":75.5,"bu":93.1,"bm":85.3,"bl":74.2},
      {"d":"2026-06-03","e20":86.3,"e50":82.3,"e100":79.5,"e200":75.6,"bu":90.1,"bm":87.5,"bl":85.2},
      {"d":"2026-06-08","e20":86.7,"e50":82.9,"e100":80.0,"e200":76.3,"bu":90.0,"bm":87.9,"bl":85.2},
      {"d":"2026-06-12","e20":88.3,"e50":84.2,"e100":80.9,"e200":76.7,"bu":92.7,"bm":88.8,"bl":85.0},
      {"d":"2026-06-18","e20":89.6,"e50":85.3,"e100":81.7,"e200":77.3,"bu":94.0,"bm":89.7,"bl":85.7},
      {"d":"2026-06-26","e20":91.7,"e50":87.0,"e100":82.9,"e200":78.1,"bu":95.9,"bm":91.4,"bl":86.6},
      {"d":"2026-07-02","e20":93.4,"e50":88.6,"e100":84.0,"e200":78.9,"bu":99.0,"bm":93.5,"bl":87.6},
      {"d":"2026-07-10","e20":94.7,"e50":90.1,"e100":85.3,"e200":79.6,"bu":99.6,"bm":94.9,"bl":90.5},
      {"d":"2026-07-16","e20":96.0,"e50":91.4,"e100":86.3,"e200":80.5,"bu":100.4,"bm":96.6,"bl":92.9},
      {"d":"2026-07-24","e20":95.5,"e50":92.0,"e100":87.2,"e200":81.2,"bu":99.4,"bm":96.6,"bl":93.8},
      {"d":"2026-07-31","e20":95.9,"e50":92.9,"e100":88.0,"e200":81.9,"bu":99.7,"bm":96.4,"bl":93.2},
      {"d":"2026-08-05","e20":95.6,"e50":93.1,"e100":88.4,"e200":82.3,"bu":99.7,"bm":96.3,"bl":93.0},
      {"d":"2026-08-07","e20":95.0,"e50":93.1,"e100":88.7,"e200":82.6,"bu":100.0,"bm":95.8,"bl":92.2},
      {"d":"2026-08-10","e20":90.5,"e50":91.0,"e100":87.8,"e200":82.1,"bu":114.5,"bm":93.1,"bl":71.5},
      {"d":"2026-08-11","e20":87.6,"e50":88.9,"e100":87.0,"e200":81.8,"bu":120.0,"bm":90.6,"bl":61.0},
      {"d":"2026-08-12","e20":83.8,"e50":86.6,"e100":86.1,"e200":81.5,"bu":123.2,"bm":88.1,"bl":53.0},
      {"d":"2026-08-13","e20":79.6,"e50":85.5,"e100":85.3,"e200":81.2,"bu":124.8,"bm":85.5,"bl":46.2},
      {"d":"2026-08-14","e20":75.8,"e50":84.7,"e100":84.9,"e200":80.9,"bu":125.3,"bm":82.8,"bl":40.3}
    ]
  },
  "layer": [
    {
      "data": {"name": "grid"},
      "mark": {"type": "rule", "stroke": "#e8e8e8", "strokeWidth": 1},
      "encoding": {
        "x": {
          "field": "g",
          "type": "temporal",
          "scale": {
            "type": "utc",
            "domain": [
              {"year": 2025, "month": 6, "date": 4, "hours": 10, "utc": true},
              {"year": 2026, "month": 8, "date": 14, "hours": 14, "utc": true}
            ]
          },
          "axis": {
            "title": null,
            "orient": "bottom",
            "values": [1749988800000, 1752667200000, 1755388800000, 1758024000000, 1760659200000, 1763337600000, 1765929600000, 1768651200000, 1771200000000, 1773705600000, 1776297600000, 1778932800000, 1781568000000, 1784246400000],
            "labels": false,
            "grid": false,
            "ticks": true,
            "tickSize": 8,
            "tickColor": "#dddddd",
            "domain": false
          }
        }
      }
    },
    {
      "data": {"name": "candles"},
      "mark": {"type": "bar", "width": 4.4},
      "encoding": {
        "x": {
          "field": "d",
          "type": "temporal",
          "axis": {
            "title": null,
            "orient": "bottom",
            "values": [1751328000000, 1754006400000, 1756771200000, 1759276800000, 1762128000000, 1764547200000, 1767312000000, 1769990400000, 1772409600000, 1775001600000, 1777593600000, 1780272000000, 1782864000000, 1785715200000],
            "format": "%b %Y",
            "labelAngle": 0,
            "labelFontSize": 17,
            "labelColor": "#666666",
            "labelPadding": 17,
            "grid": false,
            "ticks": false,
            "domain": false
          }
        },
        "y": {"field": "v", "type": "quantitative", "scale": {"domain": [0, 100], "nice": false}, "axis": null},
        "fill": {"condition": {"test": "datum.c >= datum.o", "value": "#c9edd7"}, "value": "#f7ccc6"}
      }
    },
    {
      "data": {"name": "ind"},
      "mark": {"type": "line", "strokeWidth": 1.2},
      "encoding": {
        "x": {"field": "d", "type": "temporal", "axis": null},
        "y": {"field": "bl", "type": "quantitative", "scale": {"domain": [40, 130], "nice": false, "zero": false}, "axis": null},
        "color": {
          "datum": "BB Lower",
          "type": "nominal",
          "scale": {
            "domain": ["MNST/USDT", "EMA20", "EMA50", "EMA100", "EMA200", "BB Mid (20)", "BB Upper", "BB Lower", "Volume"],
            "range": ["#666666", "#1e88e5", "#9b5de5", "#8b4513", "#111111", "#a0a0a0", "#bdbdbd", "#bdbdbd", "#f4c4be"]
          },
          "legend": {
            "title": null,
            "orient": "none",
            "legendX": 772,
            "legendY": -31,
            "direction": "horizontal",
            "symbolType": "M-1.4,-1H1.4V1H-1.4Z",
            "symbolSize": 260,
            "symbolStrokeWidth": 2,
            "labelFontSize": 16,
            "labelColor": "#666666",
            "labelOffset": 6,
            "columnPadding": 14,
            "encode": {
              "symbols": {
                "update": {
                  "fill": {"signal": "datum.value === 'MNST/USDT' ? '#666666' : datum.value === 'Volume' ? '#f8d3ce' : datum.value === 'EMA20' ? '#dde8f3' : datum.value === 'EMA50' ? '#ebe3f7' : datum.value === 'EMA100' ? '#efe6de' : '#e6e6e6'"},
                  "fillOpacity": {"value": 1},
                  "opacity": {"value": 1},
                  "strokeDash": {"signal": "datum.value === 'EMA200' ? [5, 3] : datum.value === 'BB Mid (20)' ? [3, 2] : [1000, 0]"}
                }
              }
            }
          }
        }
      }
    },
    {
      "data": {"name": "ind"},
      "mark": {"type": "line", "strokeWidth": 1.2},
      "encoding": {
        "x": {"field": "d", "type": "temporal", "axis": null},
        "y": {"field": "bu", "type": "quantitative", "scale": {"domain": [40, 130], "nice": false, "zero": false}, "axis": null},
        "color": {"datum": "BB Upper", "type": "nominal"}
      }
    },
    {
      "data": {"name": "ind"},
      "mark": {"type": "line", "strokeWidth": 1.2, "strokeDash": [4, 3]},
      "encoding": {
        "x": {"field": "d", "type": "temporal", "axis": null},
        "y": {"field": "bm", "type": "quantitative", "scale": {"domain": [40, 130], "nice": false, "zero": false}, "axis": null},
        "color": {"datum": "BB Mid (20)", "type": "nominal"}
      }
    },
    {
      "data": {"name": "ind"},
      "mark": {"type": "line", "strokeWidth": 2, "strokeDash": [7, 4]},
      "encoding": {
        "x": {"field": "d", "type": "temporal", "axis": null},
        "y": {"field": "e200", "type": "quantitative", "scale": {"domain": [40, 130], "nice": false, "zero": false}, "axis": null},
        "color": {"datum": "EMA200", "type": "nominal"}
      }
    },
    {
      "data": {"name": "ind"},
      "mark": {"type": "line", "strokeWidth": 1.6},
      "encoding": {
        "x": {"field": "d", "type": "temporal", "axis": null},
        "y": {"field": "e100", "type": "quantitative", "scale": {"domain": [40, 130], "nice": false, "zero": false}, "axis": null},
        "color": {"datum": "EMA100", "type": "nominal"}
      }
    },
    {
      "data": {"name": "ind"},
      "mark": {"type": "line", "strokeWidth": 2.2},
      "encoding": {
        "x": {"field": "d", "type": "temporal", "axis": null},
        "y": {"field": "e50", "type": "quantitative", "scale": {"domain": [40, 130], "nice": false, "zero": false}, "axis": null},
        "color": {"datum": "EMA50", "type": "nominal"}
      }
    },
    {
      "data": {"name": "ind"},
      "mark": {"type": "line", "strokeWidth": 2.6},
      "encoding": {
        "x": {"field": "d", "type": "temporal", "axis": null},
        "y": {"field": "e20", "type": "quantitative", "scale": {"domain": [40, 130], "nice": false, "zero": false}, "axis": null},
        "color": {"datum": "EMA20", "type": "nominal"}
      }
    },
    {
      "data": {"name": "candles"},
      "mark": {"type": "rule", "stroke": "#4a4a4a", "strokeWidth": 1.2},
      "encoding": {
        "x": {"field": "d", "type": "temporal", "axis": null},
        "y": {"field": "l", "type": "quantitative", "scale": {"domain": [40, 130], "nice": false, "zero": false}, "axis": null},
        "y2": {"field": "h"}
      }
    },
    {
      "data": {"name": "candles"},
      "mark": {"type": "bar", "width": 4.6, "stroke": "#3d3d3d", "strokeWidth": 0.8},
      "encoding": {
        "x": {"field": "d", "type": "temporal", "axis": null},
        "y": {
          "field": "o",
          "type": "quantitative",
          "scale": {"domain": [40, 130], "nice": false, "zero": false},
          "axis": {
            "title": null,
            "orient": "right",
            "values": [40, 50, 60, 70, 80, 90, 100, 110, 120, 130],
            "grid": true,
            "gridColor": "#e0e0e0",
            "gridDash": [2, 3],
            "ticks": true,
            "tickSize": 8,
            "tickColor": "#d6d6d6",
            "domain": true,
            "domainColor": "#dcdcdc",
            "labelFontSize": 18,
            "labelColor": "#666666",
            "labelPadding": 6
          }
        },
        "y2": {"field": "c"},
        "fill": {"condition": {"test": "datum.c >= datum.o", "value": "#538d62"}, "value": "#b9573f"}
      }
    }
  ],
  "resolve": {"scale": {"y": "independent"}, "axis": {"x": "independent"}}
}
